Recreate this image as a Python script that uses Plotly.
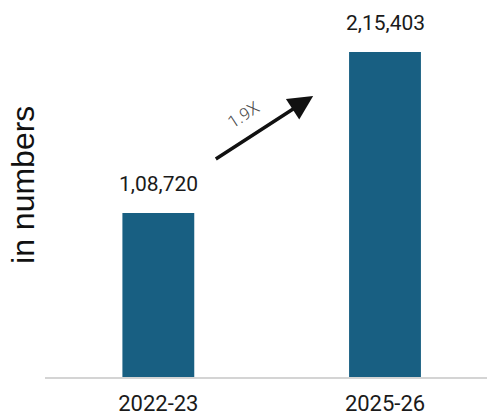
import plotly.graph_objects as go

# data
years = ["2022-23", "2025-26"]
counts = [108720, 215403]
growth_label = "1.9X"
y_title = "in numbers"

bar_color = "#185f82"
label_font = "Roboto"


def indian_format(n):
    s = str(n)
    if len(s) <= 3:
        return s
    head, tail = s[:-3], s[-3:]
    parts = []
    while len(head) > 2:
        parts.insert(0, head[-2:])
        head = head[:-2]
    if head:
        parts.insert(0, head)
    return ",".join(parts) + "," + tail


fig = go.Figure()

fig.add_trace(go.Bar(
    x=[0, 1],
    y=counts,
    width=0.317,
    marker=dict(color=bar_color, line=dict(width=0)),
    hoverinfo="skip",
))

# value labels above bars
for i, v in enumerate(counts):
    fig.add_annotation(
        x=i, y=v, text=indian_format(v),
        showarrow=False, yshift=29,
        font=dict(family=label_font, size=21, color="#1a1a1a"),
    )

# growth arrow between the two bars
fig.add_annotation(
    x=0.683, y=186200, ax=0.247, ay=143800,
    xref="x", yref="y", axref="x", ayref="y",
    text="", showarrow=True,
    arrowhead=2, arrowsize=1.4, arrowwidth=3.5, arrowcolor="#111111",
)
fig.add_annotation(
    x=0.374, y=173600, text=growth_label, textangle=-33,
    showarrow=False,
    font=dict(family=label_font, size=17, color="#4a4a4a", weight=300),
)

# y axis title, placed a little above the plot centre as in the source
fig.add_annotation(
    x=-0.05, y=0.523, xref="paper", yref="paper",
    text=y_title, textangle=-90, showarrow=False,
    xanchor="center", yanchor="middle",
    font=dict(family="Liberation Sans", size=32, color="#111111"),
)

fig.update_layout(
    width=487, height=418,
    margin=dict(l=45, r=0, t=10, b=41, autoexpand=False),
    paper_bgcolor="white",
    plot_bgcolor="white",
    showlegend=False,
    xaxis=dict(
        range=[-0.5, 1.45],
        tickvals=[0, 1],
        ticktext=years,
        showgrid=False,
        zeroline=False,
        showline=True,
        linecolor="#d4d4d4",
        linewidth=1.5,
        ticks="",
        ticklabelstandoff=6,
        tickfont=dict(family=label_font, size=22, color="#1a1a1a"),
        fixedrange=True,
    ),
    yaxis=dict(
        range=[0, 243200],
        showgrid=False,
        zeroline=False,
        showline=False,
        showticklabels=False,
        ticks="",
        fixedrange=True,
    ),
)

fig.write_html("out.html", config=dict(displayModeBar=False),
               post_script="document.body.style.margin='0';")
